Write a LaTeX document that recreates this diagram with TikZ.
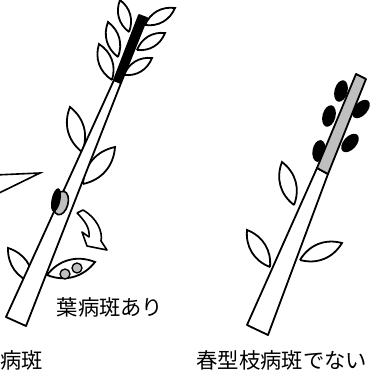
\documentclass[tikz,border=0pt]{standalone}
\usepackage{fontspec}
\newfontfamily\jp{Noto Sans CJK JP}
\begin{document}
\begin{tikzpicture}[x=0.75pt,y=-0.75pt,
    leaf/.style={draw,line width=1.35pt,fill=white},
    stem/.style={draw,line width=1.35pt,line join=round},
    spot/.style={draw,line width=1pt,fill=black!25},
    caption/.style={font=\jp\fontsize{16}{19}\selectfont,inner sep=0pt}]
  \useasboundingbox (0,0) rectangle (371,376);

  \foreach \bx/\by/\tx/\ty in {129/32/120/0, 118/57/108/22, 112/80/99/44,
      145/25/175/8, 137/50/165/33, 124/75/152/58,
      82/152/70/107, 83/184/115/147, 33/283/8/248, 47/275/95/262,
      294/205/282/162, 270/267/247/230, 300/260/342/243}
    \draw[leaf] (\bx,\by) to[bend left=37] (\tx,\ty) to[bend left=37] (\bx,\by);

  \draw[spot] (65,274) circle (5);
  \draw[spot] (77,268) circle (5);

  \foreach \cx/\cy/\r in {341/91/75, 329/116/75, 319/151/80, 361/109/48, 350/143/48}
    \fill[rotate around={\r:(\cx,\cy)}] (\cx,\cy) ellipse (11 and 6.5);

  \draw[stem,fill=white] (6,317) -- (26,326) -- (121,83) -- (114,80) -- cycle;
  \draw[stem,fill=black] (114,80) -- (121,83) -- (147,18) -- (139,15) -- cycle;
  \draw[stem,fill=white] (247,325) -- (268,335) -- (328,174) -- (317,168) -- cycle;
  \draw[stem,fill=black!25] (317,168) -- (328,174) -- (366,79) -- (356,74) -- cycle;

  \draw[spot,line width=1.2pt,rotate around={75:(61,203)}] (61,203) ellipse (12 and 7);
  \fill[rotate around={78:(56,200)}] (56,200) ellipse (12 and 4.5);

  \draw[line width=1.2pt,fill=white] (-5,195) -- (40,173) -- (-5,175);

  \draw[line width=1.2pt,fill=white,line join=round] (77,213) -- (83,210)
    .. controls (97,218) and (103,232) .. (101,241) -- (107,250) -- (87,246)
    -- (82,232) -- (89,237) .. controls (90,228) and (85,221) .. (77,213);

  \node[caption] (leafspot) at (110,307) {葉病斑あり};
  \node[caption,anchor=west] (stemspot) at (0,360) {病斑};
  \node[caption] (nospot) at (282,360) {春型枝病斑でない};
\end{tikzpicture}
\end{document}
